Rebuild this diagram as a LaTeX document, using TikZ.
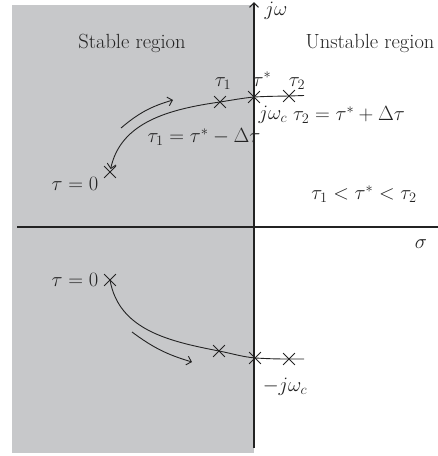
\documentclass[tikz,border=0pt]{standalone}
\usepackage{fix-cm}
\usepackage{fontspec}
\usetikzlibrary{arrows.meta,shapes.misc}
\definecolor{regiongray}{RGB}{199,200,202}
\definecolor{ink}{RGB}{35,35,35}
\tikzset{
  lab/.style={font=\fontsize{20.5}{24}\selectfont, inner sep=0pt, text=ink},
  xmark/.style={cross out, draw=ink, line width=0.8pt, minimum size=11pt, inner sep=0pt},
  locus/.style={draw=ink, line width=0.9pt},
  barb/.style={-{Straight Barb[length=4.5pt,width=9pt]}},
  axisline/.style={draw=ink, line width=1.1pt}
}
\begin{document}
\begin{tikzpicture}[x=1pt,y=1pt]
\useasboundingbox (0,0) rectangle (438,-456);
% stable region
\fill[regiongray] (12,-5) rectangle (254,-453);
% axes
\coordinate (vbot) at (254,-448);
\coordinate (vtop) at (254,-2);
\coordinate (hleft) at (17,-227);
\coordinate (hright) at (440,-227);
\draw[axisline] (hleft) -- (hright);
\draw[axisline,barb] (vbot) -- (vtop);
% axis labels
\node[lab] (jw) at (276,-11) {$j\omega$};
\node[lab] (sig) at (421,-244) {$\sigma$};
% regions
\node[lab] (stab) at (132,-43) {Stable region};
\node[lab] (unstab) at (370,-43) {Unstable region};
% upper crosses
\node[xmark] (t0u) at (110,-172) {};
\node[xmark] (t1u) at (220,-102) {};
\node[xmark] (tsu) at (254,-97) {};
\node[xmark] (t2u) at (289,-96) {};
\coordinate (endu) at (304,-95.5);
% lower crosses
\node[xmark] (t0l) at (110,-280) {};
\node[xmark] (t1l) at (219,-351) {};
\node[xmark] (tsl) at (255,-358) {};
\node[xmark] (t2l) at (289,-359) {};
\coordinate (endl) at (304,-359);
% upper locus
\draw[locus,barb,shorten >=3pt] (t1u.center) to[out=188,in=78] (t0u.center);
\draw[locus] (t1u.center) to[out=9,in=186] (tsu.center) to[out=3,in=181] (t2u.center) -- (endu);
% lower locus
\draw[locus] (t0l.center) to[out=-80,in=169] (t1l.center) to[out=-11,in=174] (tsl.center) to[out=-3,in=180] (t2l.center) -- (endl);
% direction arrows
\coordinate (au1) at (121,-128);
\coordinate (au2) at (173,-100);
\draw[locus,barb] (au1) to[bend left=12] (au2);
\coordinate (al1) at (132,-332);
\coordinate (al2) at (192,-362);
\draw[locus,barb] (al1) to[bend right=10] (al2);
% labels upper
\node[lab] (lt1) at (223,-84) {$\tau_1$};
\node[lab] (lts) at (262,-79) {$\tau^*$};
\node[lab] (lt2) at (297,-84) {$\tau_2$};
\node[lab] (ljwc) at (273,-115) {$j\omega_c$};
\node[lab] (leq2) at (349,-115) {$\tau_2=\tau^*+\Delta\tau$};
\node[lab] (leq1) at (204,-137) {$\tau_1=\tau^*-\Delta\tau$};
\node[lab] (lz1) at (75,-184) {$\tau=0$};
\node[lab] (lineq) at (364,-194) {$\tau_1<\tau^*<\tau_2$};
% labels lower
\node[lab] (lz2) at (75,-280) {$\tau=0$};
\node[lab] (lmjwc) at (285,-387) {$-j\omega_c$};
\end{tikzpicture}
\end{document}
